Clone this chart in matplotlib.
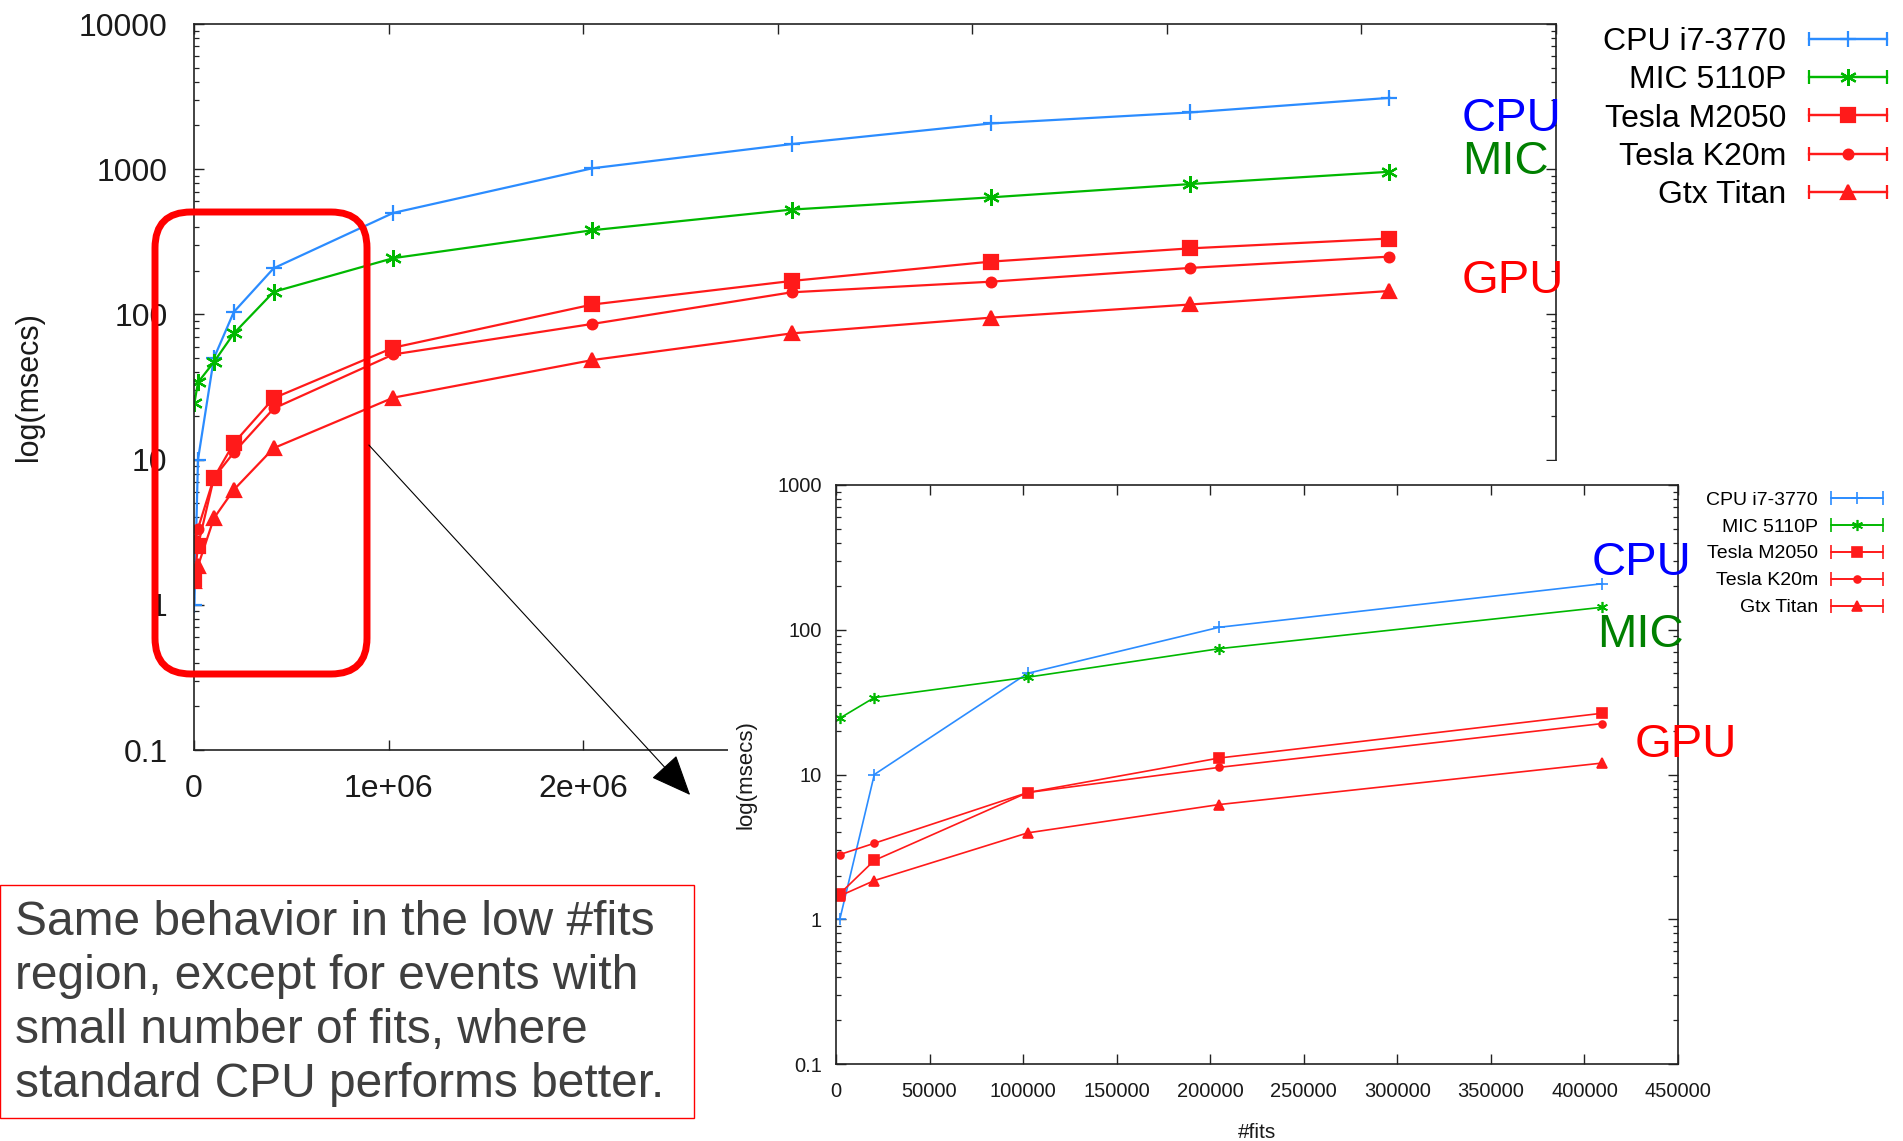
import numpy as np
import matplotlib
matplotlib.use("Agg")
import matplotlib.pyplot as plt
from matplotlib.patches import Rectangle, FancyBboxPatch, FancyArrowPatch
from matplotlib.ticker import FuncFormatter, MultipleLocator, LogLocator
from matplotlib.container import ErrorbarContainer
from matplotlib.legend_handler import HandlerErrorbar

plt.rcParams['font.family'] = ['Liberation Sans', 'DejaVu Sans']

# number of fits and timings (msecs)
nfits = [2048, 20480, 102400, 204800, 409600, 1024000, 2048000,
         3072000, 4096000, 5120000, 6144000]
cpu = [1.0, 10, 50, 104, 208, 500, 1015, 1490, 2065, 2460, 3100]
mic = [24.5, 34, 47, 74, 143, 244, 380, 527, 640, 790, 960]
m2050 = [1.5, 2.55, 7.5, 13, 26.5, 59, 117, 170, 231, 285, 333]
k20m = [2.8, 3.35, 7.5, 11.2, 22.5, 53, 86, 142, 168, 209, 250]
titan = [1.45, 1.85, 3.95, 6.2, 12, 26.7, 48.5, 74, 95, 117, 145]

names = ["CPU i7-3770", "MIC 5110P", "Tesla M2050", "Tesla K20m", "Gtx Titan"]
series = [cpu, mic, m2050, k20m, titan]
colors = ["#2b8cff", "#00b800", "#ff1a1a", "#ff1a1a", "#ff1a1a"]
markers = ["+", (6, 2, 0), "s", "o", "^"]
msize_main = [12, 12, 10, 7, 10]
msize_inset = [9, 8, 7, 5, 7]
n_inset = 5  # low #fits region
x_visible_max = 2e6  # main chart labels past this sit under the inset

W, H = 1903, 1141
fig = plt.figure(figsize=(W / 100, H / 100), dpi=100)


def style_axes(ax, fs, pad_x, pad_y):
    for s in ax.spines.values():
        s.set_color("#222222")
        s.set_linewidth(1.2)
    ax.tick_params(which="both", direction="in", top=True, right=True, colors="#222222")
    ax.tick_params(which="major", length=7, width=1.0)
    ax.tick_params(which="minor", length=3.5, width=0.9)
    ax.tick_params(axis="x", labelsize=fs, pad=pad_x, labelcolor="#1a1a1a")
    ax.tick_params(axis="y", labelsize=fs, pad=pad_y, labelcolor="#1a1a1a")


def main_xfmt(v, p):
    if v == 0:
        return "0"
    if v > x_visible_max:
        return ""
    return f"{v:.0e}"


# ---- main chart ----
ax = fig.add_axes([194 / W, 1 - 750 / H, 1362 / W, 726 / H])
for ys, c, m, ms in zip(series, colors, markers, msize_main):
    ax.plot(nfits, ys, color=c, marker=m, ms=ms, lw=1.6, mew=1.6)
ax.set_yscale("log")
ax.set_ylim(0.1, 10000)
ax.set_xlim(0, 7e6)
ax.xaxis.set_major_locator(MultipleLocator(1e6))
ax.xaxis.set_major_formatter(FuncFormatter(main_xfmt))
ax.yaxis.set_major_locator(LogLocator(base=10))
ax.yaxis.set_minor_locator(LogLocator(base=10, subs=np.arange(2, 10)))
ax.yaxis.set_major_formatter(FuncFormatter(lambda v, p: f"{v:g}"))
style_axes(ax, 23, 17, 19)
ax.set_ylabel("log(msecs)", fontsize=22, color="#1a1a1a")
ax.yaxis.set_label_coords(-0.11, 0.5)

# legend handles in gnuplot errorbar style
def legend_handles(axx, sizes, lw):
    hs = []
    for c, m, ms in zip(colors, markers, sizes):
        hs.append(axx.errorbar([np.nan], [np.nan], xerr=[1], color=c, marker=m, ms=ms,
                               lw=lw, mew=lw, capsize=5, elinewidth=lw))
    return hs

fig.legend(legend_handles(ax, msize_main, 1.6), names, loc="upper right",
           bbox_to_anchor=(1887 / W, 1 - 27 / H), bbox_transform=fig.transFigure,
           markerfirst=False, frameon=False, fontsize=23, handlelength=2.45,
           handletextpad=0.7, labelspacing=0.26, borderpad=0, borderaxespad=0,
           handler_map={ErrorbarContainer: HandlerErrorbar(xerr_size=1.22)})

# white panel holding the zoomed chart
fig.add_artist(Rectangle((728 / W, 0), 1 - 728 / W, 1 - 461 / H, transform=fig.transFigure,
                         facecolor="white", edgecolor="none", zorder=1))

# ---- inset chart (low #fits) ----
ax2 = fig.add_axes([836 / W, 1 - 1064 / H, 842 / W, 579 / H], zorder=2)
for ys, c, m, ms in zip(series, colors, markers, msize_inset):
    ax2.plot(nfits[:n_inset], ys[:n_inset], color=c, marker=m, ms=ms, lw=1.2, mew=1.2)
ax2.set_yscale("log")
ax2.set_ylim(0.1, 1000)
ax2.set_xlim(0, 450000)
ax2.xaxis.set_major_locator(MultipleLocator(50000))
ax2.xaxis.set_major_formatter(FuncFormatter(lambda v, p: f"{v:.0f}"))
ax2.yaxis.set_major_locator(LogLocator(base=10))
ax2.yaxis.set_minor_locator(LogLocator(base=10, subs=np.arange(2, 10)))
ax2.yaxis.set_major_formatter(FuncFormatter(lambda v, p: f"{v:g}"))
style_axes(ax2, 14.5, 13, 10)
ax2.set_ylabel("log(msecs)", fontsize=16, color="#1a1a1a")
ax2.yaxis.set_label_coords(-0.094, 0.5)
ax2.set_xlabel("#fits", fontsize=15, color="#1a1a1a")
ax2.xaxis.set_label_coords(0.5, -0.102)

fig.legend(legend_handles(ax2, msize_inset, 1.2), names, loc="upper right",
           bbox_to_anchor=(1883 / W, 1 - 491 / H), bbox_transform=fig.transFigure,
           markerfirst=False, frameon=False, fontsize=14, handlelength=2.7,
           handletextpad=0.65, labelspacing=0.48, borderpad=0, borderaxespad=0,
           handler_map={ErrorbarContainer: HandlerErrorbar(xerr_size=1.35)})

# group labels
for txt, col, x, y in [("CPU", "#0000ff", 1462, 131), ("MIC", "#008000", 1462, 174),
                       ("GPU", "#ff0000", 1462, 293), ("CPU", "#0000ff", 1592, 575),
                       ("MIC", "#008000", 1597, 647), ("GPU", "#ff0000", 1635, 757)]:
    fig.text(x / W, 1 - y / H, txt, color=col, fontsize=34, va="baseline", ha="left", zorder=4)

# red rounded box around low #fits region
fig.add_artist(FancyBboxPatch((1.55, (H - 674) / 100), 2.12, 4.62,
                              boxstyle="round,pad=0,rounding_size=0.36",
                              transform=fig.dpi_scale_trans, facecolor="none",
                              edgecolor="#ff0000", lw=5, zorder=3))
fig.add_artist(FancyArrowPatch((3.67, (H - 443) / 100), (6.92, (H - 797) / 100),
                               transform=fig.dpi_scale_trans, color="black", lw=0.8,
                               arrowstyle="-|>,head_length=1.3,head_width=0.55",
                               mutation_scale=20, zorder=3))

# comment box
fig.add_artist(Rectangle((0, 23 / H), 694 / W, 233 / H, transform=fig.transFigure,
                         facecolor="white", edgecolor="#ff0000", lw=1, zorder=1))
fig.text(15 / W, 1 - 900 / H,
         "Same behavior in the low #fits\nregion, except for events with\n"
         "small number of fits, where\nstandard CPU performs better.",
         fontsize=34.5, color="#3f3f3f", va="top", ha="left", linespacing=1.255, zorder=2)

fig.savefig("out.png", dpi=100)
